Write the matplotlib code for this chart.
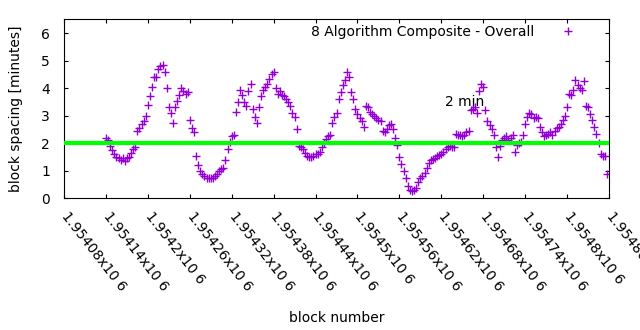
import matplotlib
matplotlib.use("Agg")
import matplotlib.pyplot as plt

# block numbers (x) and block spacing in minutes (y)
blocks = list(range(1954140, 1954860, 3))
spacing = [
    2.2, 2.1, 1.9, 1.75, 1.6, 1.5, 1.45, 1.4, 1.45, 1.35,
    1.45, 1.5, 1.65, 1.8, 1.85, 2.45, 2.55, 2.7, 2.8, 3.0,
    3.4, 3.7, 4.05, 4.4, 4.4, 4.7, 4.8, 4.85, 4.6, 4.0,
    3.3, 3.1, 2.75, 3.3, 3.55, 3.75, 4.0, 3.9, 3.8, 3.85,
    2.85, 2.55, 2.4, 1.55, 1.2, 1.0, 0.9, 0.8, 0.75, 0.72,
    0.72, 0.75, 0.82, 0.9, 0.98, 1.05, 1.1, 1.4, 1.8, 2.05,
    2.25, 2.3, 3.15, 3.5, 3.95, 3.75, 3.5, 3.35, 3.9, 4.15,
    3.25, 2.95, 2.75, 3.3, 3.7, 3.95, 4.05, 4.15, 4.35, 4.5,
    4.6, 4.0, 3.8, 3.9, 3.75, 3.7, 3.6, 3.5, 3.35, 3.1,
    2.95, 2.5, 1.9, 1.85, 1.8, 1.65, 1.55, 1.5, 1.5, 1.55,
    1.6, 1.62, 1.7, 1.85, 2.0, 2.15, 2.25, 2.3, 2.75, 2.95,
    3.1, 3.6, 3.85, 4.1, 4.3, 4.6, 4.4, 3.85, 3.6, 3.25,
    3.05, 2.9, 2.8, 2.6, 3.35, 3.3, 3.15, 3.05, 3.0, 2.9,
    2.85, 2.8, 2.45, 2.4, 2.5, 2.65, 2.7, 2.5, 2.2, 1.95,
    1.5, 1.25, 1.0, 0.75, 0.45, 0.3, 0.28, 0.3, 0.38, 0.6,
    0.72, 0.82, 0.92, 1.1, 1.3, 1.38, 1.42, 1.48, 1.52, 1.58,
    1.62, 1.7, 1.8, 1.85, 1.9, 1.88, 1.85, 2.35, 2.3, 2.3,
    2.25, 2.3, 2.4, 2.45, 3.2, 3.25, 3.3, 3.1, 3.9, 4.15,
    4.05, 3.2, 2.8, 2.65, 2.5, 2.3, 1.85, 1.5, 1.9, 2.1,
    2.2, 2.25, 2.1, 2.2, 2.3, 1.7, 1.95, 2.0, 2.05, 2.3,
    2.7, 2.95, 3.1, 3.05, 2.9, 2.95, 2.9, 2.6, 2.4, 2.25,
    2.3, 2.35, 2.4, 2.3, 2.45, 2.55, 2.6, 2.7, 2.85, 3.0,
    3.3, 3.8, 3.75, 3.95, 4.3, 4.1, 4.0, 3.95, 4.25, 3.35,
    3.3, 3.05, 2.85, 2.6, 2.35, 2.0, 1.6, 1.55, 1.55, 0.88,
]

target = 2.0  # 2 minute target line
x_ticks = list(range(1954080, 1954861, 60))
x_labels = ["1.95408", "1.95414", "1.9542", "1.95426", "1.95432", "1.95438",
            "1.95444", "1.9545", "1.95456", "1.95462", "1.95468", "1.95474",
            "1.9548", "1.95486"]
y_ticks = [0, 1, 2, 3, 4, 5, 6]

plt.rcParams['font.family'] = ['DejaVu Sans']
plt.rcParams['font.size'] = 10

fig = plt.figure(figsize=(6.4, 3.3), dpi=100)
ax = fig.add_axes([0.1, 0.399, 0.8516, 0.5425])

ax.plot(blocks, spacing, linestyle='none', marker='+', markersize=5.5,
        markeredgewidth=1.0, color='#9400d3', label="8 Algorithm Composite - Overall")
ax.axhline(target, color='#00ff00', linewidth=3, zorder=3)
ax.text(1954654, 3.5, "2 min", ha='center', va='center', fontsize=10, zorder=4)

ax.set_xlim(1954080, 1954860)
ax.set_ylim(0, 6.5)
ax.set_xticks(x_ticks)
ax.set_xticklabels([s + "x10 6" for s in x_labels], rotation=-52,
                   ha='left', va='center', rotation_mode='anchor')
ax.set_yticks(y_ticks)
ax.tick_params(direction='in', length=3, width=0.8, top=True, right=True)
ax.tick_params(axis='x', pad=11)
ax.tick_params(axis='y', pad=10)

ax.set_xlabel("block number", labelpad=12)
ax.set_ylabel("block spacing [minutes]", labelpad=13)

ax.legend(loc='upper right', bbox_to_anchor=(0.96, 1.0), borderaxespad=0,
          frameon=False, markerfirst=False, numpoints=1, handlelength=2,
          handletextpad=1.4)

fig.savefig("out.png", dpi=100)
